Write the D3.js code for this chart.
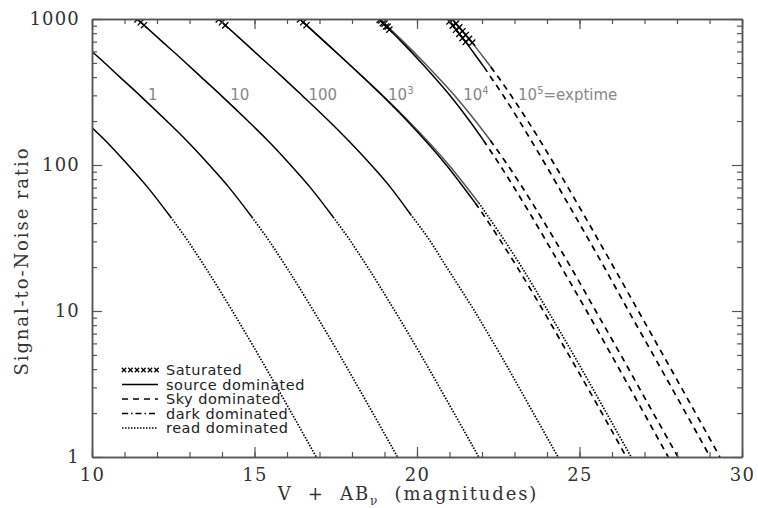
<!DOCTYPE html>
<html>
<head>
<meta charset="utf-8">
<script src="https://cdn.jsdelivr.net/npm/d3@7"></script>
<style>
  body { margin: 0; background: #fff; }
</style>
</head>
<body>
<svg id="chart" width="758" height="508"></svg>
<script>
// ---- data: [magnitude, S/N] ----
// exptime 0.1 (unlabelled)
var exp01Source = [[10, 180], [10.37, 150], [11.11, 100], [11.72, 70], [12.42, 44]];
var exp01Read = [[12.42, 44], [12.96, 30], [13.48, 20], [14.32, 10], [15.12, 5], [16.14, 2], [16.90, 1]];
// exptime 1
var exp1Source = [[10, 598], [10.39, 500], [10.86, 400], [11.47, 300], [12.30, 200], [12.87, 150], [13.61, 100], [14.22, 70], [14.92, 44]];
var exp1Read = [[14.92, 44], [15.46, 30], [15.98, 20], [16.82, 10], [17.62, 5], [18.64, 2], [19.40, 1]];
// exptime 10
var exp10Sat = [[11.4, 995], [11.5, 950], [11.6, 907]];
var exp10Source = [[11.39, 1000], [12.16, 700], [12.89, 500], [13.36, 400], [13.97, 300], [14.80, 200], [15.37, 150], [16.11, 100], [16.72, 70], [17.42, 44]];
var exp10Read = [[17.42, 44], [17.96, 30], [18.48, 20], [19.32, 10], [20.12, 5], [21.14, 2], [21.90, 1]];
// exptime 100
var exp100Sat = [[13.9, 995], [14.0, 950], [14.1, 905]];
var exp100Source = [[13.89, 1000], [14.66, 700], [15.38, 500], [15.86, 400], [16.46, 300], [17.29, 200], [17.85, 150], [18.59, 100], [19.19, 70], [19.80, 46]];
var exp100Read = [[19.80, 46], [20.41, 30], [20.91, 20], [21.77, 10], [22.57, 5], [23.58, 2], [24.34, 1]];
// exptime 1e3 (two variants)
var exp1e3Sat = [[16.4, 995], [16.5, 950], [16.6, 906]];
var exp1e3SourceA = [[16.39, 1000], [17.15, 700], [17.87, 500], [18.92, 300], [19.70, 200], [20.90, 100], [21.79, 55]];
var exp1e3Sky = [[21.79, 55], [21.92, 50], [23.08, 20], [23.89, 10], [24.67, 5], [25.69, 2], [26.44, 1]];
var exp1e3SourceB = [[16.39, 1000], [17.16, 700], [17.87, 500], [18.94, 300], [19.74, 200], [20.98, 100], [21.90, 55]];
var exp1e3Read = [[21.90, 55], [22.03, 50], [23.22, 20], [24.03, 10], [24.82, 5], [25.83, 2], [26.59, 1]];
// exptime 1e4 (two variants)
var exp1e4Sat = [[18.85, 985], [18.95, 936], [19.05, 889], [19.15, 845], [18.9, 976], [19.0, 929], [19.1, 885]];
var exp1e4SourceA = [[18.82, 1000], [19.52, 700], [20.14, 500], [21.01, 300], [21.62, 200], [22.04, 148]];
var exp1e4SkyA = [[22.04, 148], [22.55, 100], [23.39, 50], [24.44, 20], [25.22, 10], [25.98, 5], [26.98, 2], [27.73, 1]];
var exp1e4SourceB = [[18.85, 1000], [19.58, 700], [20.23, 500], [21.15, 300], [21.80, 200], [22.25, 148]];
var exp1e4SkyB = [[22.25, 148], [22.79, 100], [23.66, 50], [24.73, 20], [25.50, 10], [26.27, 5], [27.27, 2], [28.03, 1]];
// exptime 1e5 (two variants)
var exp1e5Sat = [[21.0, 962], [21.1, 901], [21.2, 844], [21.3, 790], [21.4, 740], [21.5, 697],
                 [21.1, 988], [21.2, 930], [21.3, 876], [21.4, 825], [21.5, 777], [21.6, 731], [21.7, 689]];
var exp1e5SourceA = [[20.94, 1000], [21.49, 700], [21.97, 500], [22.06, 470]];
var exp1e5SkyA = [[22.06, 470], [22.27, 400], [22.65, 300], [23.15, 200], [23.96, 100], [24.74, 50], [25.76, 20], [26.51, 10], [27.27, 5], [28.27, 2], [29.02, 1]];
var exp1e5SourceB = [[21.08, 1000], [21.67, 700], [22.18, 500], [22.27, 470]];
var exp1e5SkyB = [[22.27, 470], [22.50, 400], [22.89, 300], [23.41, 200], [24.24, 100], [25.03, 50], [26.05, 20], [26.81, 10], [27.57, 5], [28.57, 2], [29.32, 1]];

// exposure time labels
var expLabels = ["1", "10", "100", "10|3", "10|4", "10|5|=exptime"];
var labelMag = [11.72, 14.25, 16.66, 19.11, 21.42, 23.11];
var labelSnr = 279;

// axis ticks
var xMajor = [10, 15, 20, 25, 30];
var xMinor = d3.range(10, 31, 1);
var yMajor = [1, 10, 100, 1000];
var yMinor = [2, 3, 4, 5, 6, 7, 8, 9, 20, 30, 40, 50, 60, 70, 80, 90, 200, 300, 400, 500, 600, 700, 800, 900];

var legendLabels = ["Saturated", "source dominated", "Sky dominated", "dark dominated", "read dominated"];
var legendKinds = ["sat", "source", "sky", "dark", "read"];

// ---- layout ----
var svg = d3.select("#chart");
var plotL = 92, plotR = 742, plotT = 19, plotB = 457;

var x = d3.scaleLinear().domain([10, 30]).range([plotL, plotR]);
var y = d3.scaleLog().domain([1, 1000]).range([plotB, plotT]);

var dashFor = {
    source: null,
    sky: "6,5",
    dark: "6,3,1.5,3",
    read: "1.5,1.5"
};

svg.append("clipPath").attr("id", "plotclip")
    .append("rect")
    .attr("x", plotL).attr("y", plotT)
    .attr("width", plotR - plotL).attr("height", plotB - plotT);

// segments
var segments = [
    {pts: exp01Source, kind: "source"}, {pts: exp01Read, kind: "read"},
    {pts: exp1Source, kind: "source"}, {pts: exp1Read, kind: "read"},
    {pts: exp10Source, kind: "source"}, {pts: exp10Read, kind: "read"},
    {pts: exp100Source, kind: "source"}, {pts: exp100Read, kind: "read"},
    {pts: exp1e3SourceB, kind: "source", grey: true}, {pts: exp1e3Read, kind: "read"},
    {pts: exp1e3SourceA, kind: "source"}, {pts: exp1e3Sky, kind: "sky"},
    {pts: exp1e4SourceB, kind: "source", grey: true}, {pts: exp1e4SkyB, kind: "sky"},
    {pts: exp1e4SourceA, kind: "source"}, {pts: exp1e4SkyA, kind: "sky"},
    {pts: exp1e5SourceB, kind: "source", grey: true}, {pts: exp1e5SkyB, kind: "sky"},
    {pts: exp1e5SourceA, kind: "source"}, {pts: exp1e5SkyA, kind: "sky"}
];
var satPoints = [].concat(exp10Sat, exp100Sat, exp1e3Sat, exp1e4Sat, exp1e5Sat);

var line = d3.line()
    .x(d => x(d[0]))
    .y(d => y(d[1]))
    .curve(d3.curveMonotoneX);

var plot = svg.append("g").attr("clip-path", "url(#plotclip)");

segments.forEach(s => {
    plot.append("path")
        .attr("d", line(s.pts))
        .attr("fill", "none")
        .attr("stroke", s.grey ? "#555" : "#000")
        .attr("stroke-width", s.kind === "source" ? 1.5 : 1.7)
        .attr("stroke-dasharray", dashFor[s.kind]);
});

function xMark(g, cx, cy, r) {
    g.append("path")
        .attr("d", `M${cx - r},${cy - r}L${cx + r},${cy + r}M${cx - r},${cy + r}L${cx + r},${cy - r}`)
        .attr("stroke", "#000")
        .attr("stroke-width", 1.3)
        .attr("fill", "none");
}

satPoints.forEach(d => xMark(plot, x(d[0]), y(d[1]), 3.1));

// ---- axes ----
var axisColor = "#555";

function styleAxis(g) {
    g.selectAll("path.domain").attr("stroke", axisColor).attr("stroke-width", 1.5);
    g.selectAll(".tick line").attr("stroke", axisColor).attr("stroke-width", 1.2);
    g.selectAll("text")
        .attr("fill", "#333")
        .style("font-family", "'DejaVu Serif', serif")
        .style("font-size", "18px")
        .style("letter-spacing", "1.2px");
}

// bottom
svg.append("g").attr("transform", `translate(0,${plotB})`)
    .call(d3.axisBottom(x).tickValues(xMinor).tickSize(-5).tickSizeOuter(0).tickFormat(""))
    .call(styleAxis);
svg.append("g").attr("transform", `translate(0,${plotB})`)
    .call(d3.axisBottom(x).tickValues(xMajor).tickSize(-10).tickSizeOuter(0).tickPadding(11).tickFormat(d3.format("d")))
    .call(styleAxis);
// top
svg.append("g").attr("transform", `translate(0,${plotT})`)
    .call(d3.axisTop(x).tickValues(xMinor).tickSize(-5).tickSizeOuter(0).tickFormat(""))
    .call(styleAxis);
svg.append("g").attr("transform", `translate(0,${plotT})`)
    .call(d3.axisTop(x).tickValues(xMajor).tickSize(-10).tickSizeOuter(0).tickFormat(""))
    .call(styleAxis);
// left
svg.append("g").attr("transform", `translate(${plotL},0)`)
    .call(d3.axisLeft(y).tickValues(yMinor).tickSize(-5).tickSizeOuter(0).tickFormat(""))
    .call(styleAxis);
svg.append("g").attr("transform", `translate(${plotL},0)`)
    .call(d3.axisLeft(y).tickValues(yMajor).tickSize(-10).tickSizeOuter(0).tickPadding(12).tickFormat(d3.format("d")))
    .call(styleAxis);
// right
svg.append("g").attr("transform", `translate(${plotR},0)`)
    .call(d3.axisRight(y).tickValues(yMinor).tickSize(-5).tickSizeOuter(0).tickFormat(""))
    .call(styleAxis);
svg.append("g").attr("transform", `translate(${plotR},0)`)
    .call(d3.axisRight(y).tickValues(yMajor).tickSize(-10).tickSizeOuter(0).tickFormat(""))
    .call(styleAxis);

// axis titles
svg.append("text")
    .attr("transform", `translate(28,${(plotT + plotB) / 2 + 23}) rotate(-90)`)
    .attr("text-anchor", "middle")
    .attr("fill", "#333")
    .style("font-family", "'DejaVu Serif', serif")
    .style("font-size", "18px")
    .style("letter-spacing", "1.9px")
    .text("Signal-to-Noise ratio");

var xTitle = svg.append("text")
    .attr("x", 408).attr("y", 500)
    .attr("text-anchor", "middle")
    .attr("fill", "#333")
    .style("font-family", "'DejaVu Serif', serif")
    .style("font-size", "18px")
    .style("letter-spacing", "1.9px")
    .attr("xml:space", "preserve");
xTitle.append("tspan").text("V  +  AB");
xTitle.append("tspan").attr("dy", 5).style("font-size", "12px").text("ν");
xTitle.append("tspan").attr("dy", -5).text("  (magnitudes)");

// exposure labels
expLabels.forEach((s, i) => {
    var parts = s.split("|");
    var t = svg.append("text")
        .attr("x", x(labelMag[i]))
        .attr("y", y(labelSnr))
        .attr("fill", "#888")
        .style("font-family", "'DejaVu Sans', sans-serif")
        .style("font-size", "15px");
    t.append("tspan").text(parts[0]);
    if (parts.length > 1) {
        t.append("tspan").attr("dy", -6).style("font-size", "10px").text(parts[1]);
        if (parts.length > 2) t.append("tspan").attr("dy", 6).text(parts[2]);
    }
});

// legend
var legend = svg.append("g");
legendLabels.forEach((s, i) => {
    var by = 375 + i * 14.5;
    var ly = by - 5;
    if (legendKinds[i] === "sat") {
        d3.range(6).forEach(k => xMark(legend, 124 + k * 6.5, ly, 2.2));
    } else {
        legend.append("line")
            .attr("x1", 122).attr("x2", 158)
            .attr("y1", ly).attr("y2", ly)
            .attr("stroke", "#000")
            .attr("stroke-width", 1.4)
            .attr("stroke-dasharray", dashFor[legendKinds[i]]);
    }
    legend.append("text")
        .attr("x", 166).attr("y", by)
        .attr("fill", "#222")
        .style("font-family", "'DejaVu Sans', sans-serif")
        .style("font-size", "14.5px")
        .style("letter-spacing", "0.5px")
        .text(s);
});
</script>
</body>
</html>
